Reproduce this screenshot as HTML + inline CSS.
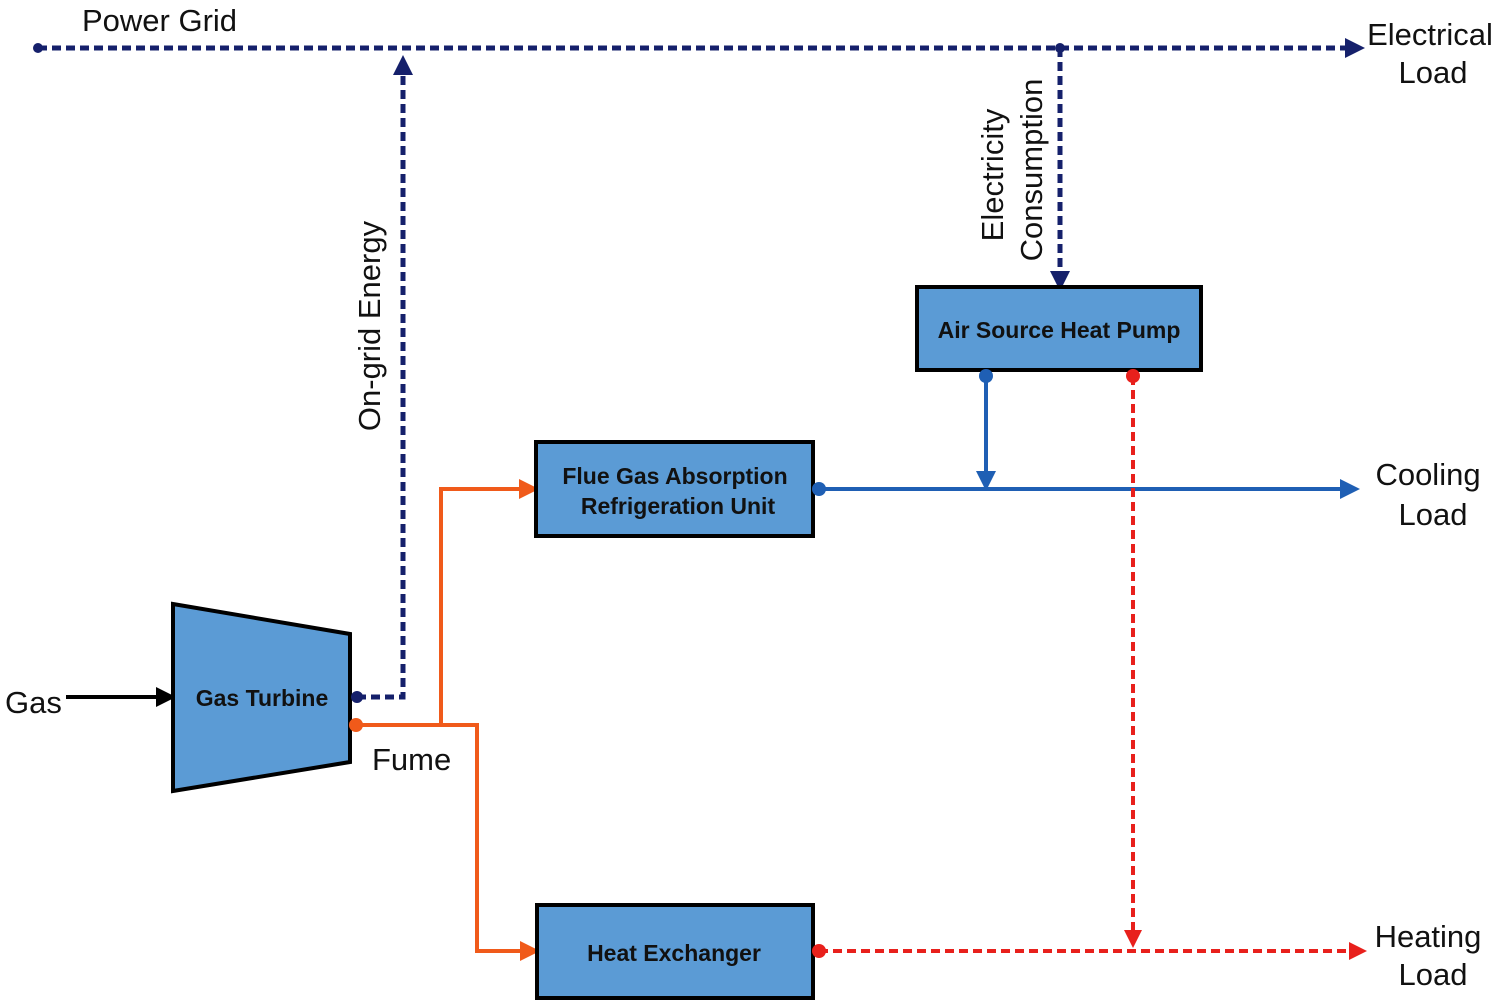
<!DOCTYPE html>
<html><head><meta charset="utf-8"><style>html,body{margin:0;padding:0;background:#fff}svg{display:block}text{font-family:"Liberation Sans",sans-serif}</style></head><body>
<svg width="1500" height="1005" viewBox="0 0 1500 1005" xmlns="http://www.w3.org/2000/svg">
<defs>
<marker id="an" markerWidth="4" markerHeight="4" refX="3" refY="2" orient="auto" markerUnits="strokeWidth"><path d="M0,0 L4,2 L0,4 z" fill="#15206b"/></marker>
<marker id="ao" markerWidth="5" markerHeight="5" refX="4" refY="2.5" orient="auto" markerUnits="strokeWidth"><path d="M0,0 L5,2.5 L0,5 z" fill="#f05a1a"/></marker>
<marker id="ab" markerWidth="5" markerHeight="5" refX="4" refY="2.5" orient="auto" markerUnits="strokeWidth"><path d="M0,0 L5,2.5 L0,5 z" fill="#1f5fb4"/></marker>
<marker id="ar" markerWidth="4.5" markerHeight="4.5" refX="3.5" refY="2.25" orient="auto" markerUnits="strokeWidth"><path d="M0,0 L4.5,2.25 L0,4.5 z" fill="#e8201c"/></marker>
<marker id="ak" markerWidth="5" markerHeight="5" refX="4" refY="2.5" orient="auto" markerUnits="strokeWidth"><path d="M0,0 L5,2.5 L0,5 z" fill="#000"/></marker>
</defs>
<g fill="none" stroke-width="4">
<line x1="38" y1="48" x2="1360" y2="48" stroke="#15206b" stroke-width="5" stroke-dasharray="9,5" marker-end="url(#an)"/>
<polyline points="357,697 403,697 403,60" stroke="#15206b" stroke-width="5" stroke-dasharray="9,5" marker-end="url(#an)"/>
<line x1="1060" y1="48" x2="1060" y2="286" stroke="#15206b" stroke-width="5" stroke-dasharray="9,5" marker-end="url(#an)"/>
<line x1="66" y1="697" x2="172" y2="697" stroke="#000" marker-end="url(#ak)"/>
<polyline points="356,725 477,725 477,951 536,951" stroke="#f05a1a" marker-end="url(#ao)"/>
<polyline points="441,725 441,489 535,489" stroke="#f05a1a" marker-end="url(#ao)"/>
<line x1="819" y1="489" x2="1356" y2="489" stroke="#1f5fb4" marker-end="url(#ab)"/>
<line x1="986" y1="376" x2="986" y2="487" stroke="#1f5fb4" marker-end="url(#ab)"/>
<line x1="1133" y1="376" x2="1133" y2="944" stroke="#e8201c" stroke-dasharray="9,5" marker-end="url(#ar)"/>
<line x1="819" y1="951" x2="1363" y2="951" stroke="#e8201c" stroke-dasharray="9,5" marker-end="url(#ar)"/>
</g>
<g fill="#5b9bd5" stroke="#000" stroke-width="4">
<polygon points="173,604 350,634 350,762 173,791"/>
<rect x="917" y="287" width="284" height="83"/>
<rect x="536" y="442" width="277" height="94"/>
<rect x="537" y="905" width="276" height="93"/>
</g>
<g>
<circle cx="38" cy="48" r="5" fill="#15206b"/><circle cx="1060" cy="48" r="5" fill="#15206b"/>
<circle cx="357" cy="697" r="6" fill="#15206b"/>
<circle cx="356" cy="725" r="7" fill="#f05a1a"/>
<circle cx="819" cy="489" r="7" fill="#1f5fb4"/><circle cx="986" cy="376" r="7" fill="#1f5fb4"/>
<circle cx="1133" cy="376" r="7" fill="#e8201c"/><circle cx="819" cy="951" r="7" fill="#e8201c"/>
</g>
<g font-weight="bold" font-size="23" fill="#111" text-anchor="middle">
<text x="262" y="706">Gas Turbine</text>
<text x="1059" y="338">Air Source Heat Pump</text>
<text x="675" y="484">Flue Gas Absorption</text>
<text x="678" y="514">Refrigeration Unit</text>
<text x="674" y="961">Heat Exchanger</text>
</g>
<g font-size="31" fill="#111">
<text x="82" y="31">Power Grid</text>
<text x="1430" y="45" text-anchor="middle">Electrical</text>
<text x="1433" y="83" text-anchor="middle">Load</text>
<text x="1428" y="485" text-anchor="middle">Cooling</text>
<text x="1433" y="525" text-anchor="middle">Load</text>
<text x="1428" y="947" text-anchor="middle">Heating</text>
<text x="1433" y="985" text-anchor="middle">Load</text>
<text x="5" y="713">Gas</text>
<text x="372" y="770">Fume</text>
<text transform="translate(380,326) rotate(-90)" text-anchor="middle">On-grid Energy</text>
<text transform="translate(1003,175) rotate(-90)" text-anchor="middle">Electricity</text>
<text transform="translate(1042,170) rotate(-90)" text-anchor="middle">Consumption</text>
</g>
</svg>
</body></html>
